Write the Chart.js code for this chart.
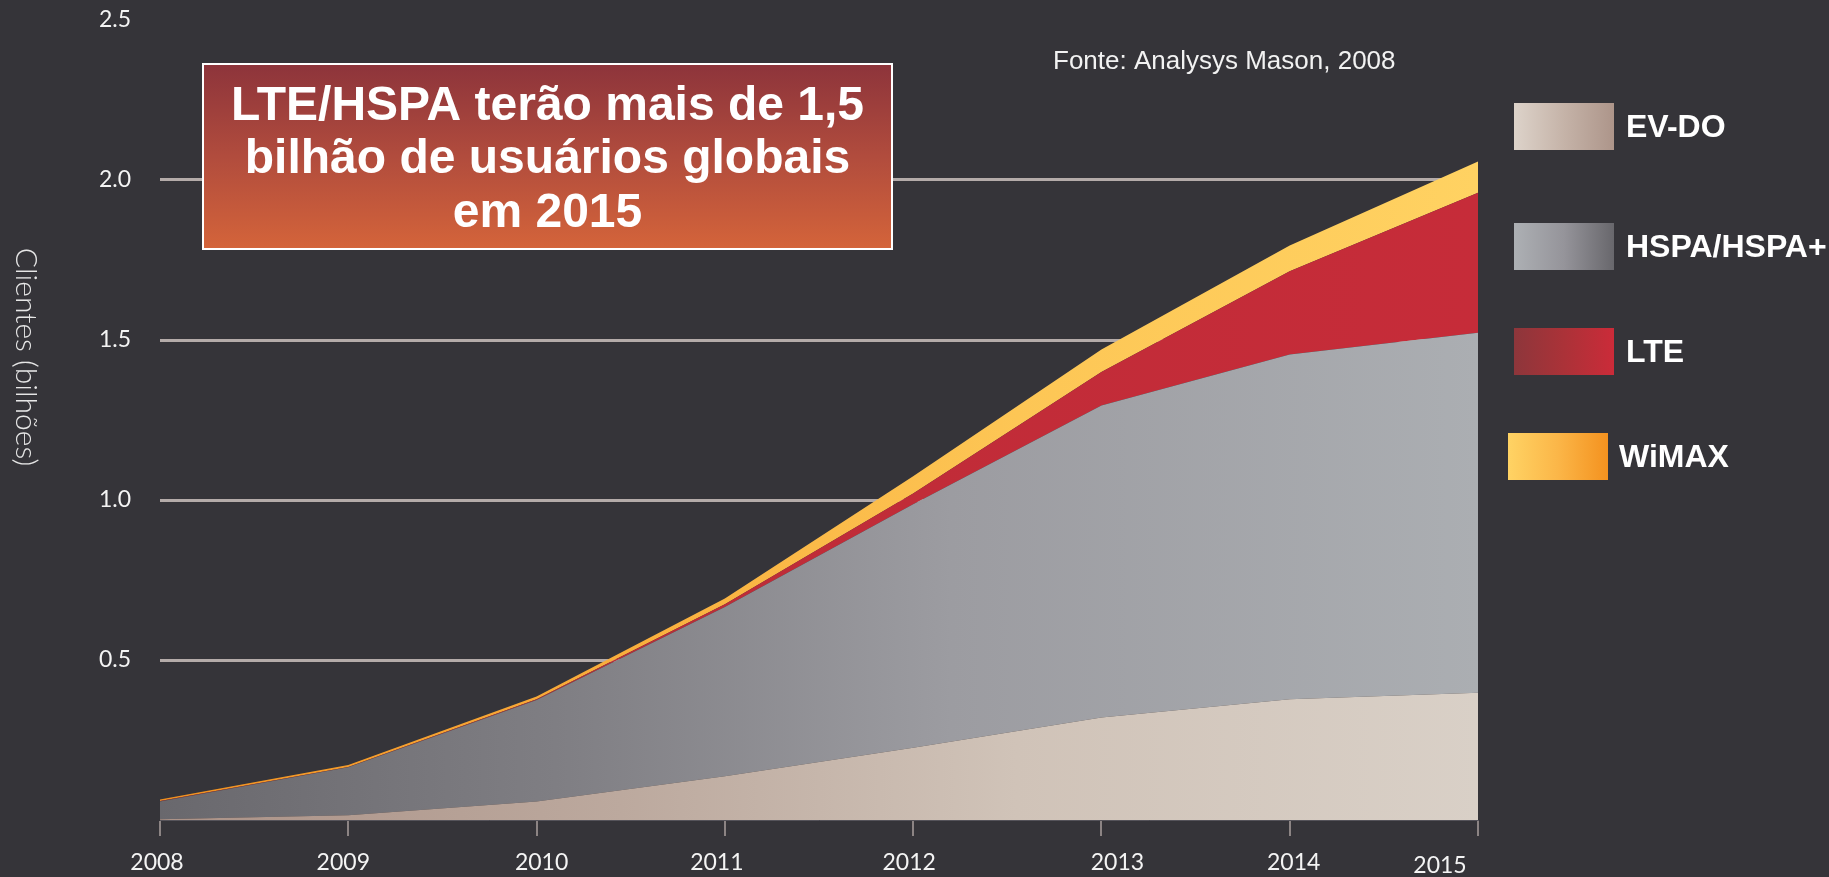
<!DOCTYPE html>
<html>
<head>
<meta charset="utf-8">
<script src="https://cdn.jsdelivr.net/npm/chart.js@4/dist/chart.umd.min.js"></script>
<style>
  html, body { margin: 0; padding: 0; background: #353439; }
  #wrap { position: relative; width: 1829px; height: 877px; }
</style>
</head>
<body>
<div id="wrap"><canvas id="c"></canvas></div>
<script>
// ---------------- data ----------------
const years = [2008, 2009, 2010, 2011, 2012, 2013, 2014, 2015];
const evdo  = [0.002, 0.015, 0.058, 0.137, 0.226, 0.320, 0.377, 0.398];
const hspa  = [0.056, 0.150, 0.317, 0.529, 0.761, 0.975, 1.078, 1.125];
const lte   = [0.001, 0.001, 0.002, 0.008, 0.033, 0.105, 0.260, 0.437];
const wimax = [0.005, 0.006, 0.009, 0.018, 0.054, 0.070, 0.080, 0.098];
const seriesNames = ['EV-DO', 'HSPA/HSPA+', 'LTE', 'WiMAX'];
const yTickValues = [0.5, 1.0, 1.5, 2.0, 2.5];
const headline = ['LTE/HSPA terão mais de 1,5', 'bilhão de usuários globais', 'em 2015'];
const sourceNote = 'Fonte: Analysys Mason, 2008';
const yTitle = 'Clientes (bilhões)';

// ---------------- styles ----------------
const areaStops = [
  [[0, '#ab9287'], [0.35, '#bca99e'], [0.65, '#d0c3b8'], [1, '#d9d0c7']],
  [[0, '#69686d'], [0.3, '#7f7e83'], [0.6, '#9c9ca1'], [1, '#abaeb2']],
  [[0, '#a3303a'], [0.5, '#c02c38'], [1, '#c62c39']],
  [[0, '#f2911f'], [0.35, '#f9ae3c'], [0.65, '#fdc655'], [1, '#ffd262']]
];
const swatchStops = [
  [[0, '#ddd3ca'], [0.5, '#c5b3a8'], [1, '#ad958a']],
  [[0, '#adb0b4'], [0.5, '#95949a'], [1, '#68676c']],
  [[0, '#8d363b'], [0.5, '#ab3238'], [1, '#cb2b39']],
  [[0, '#ffd364'], [0.5, '#fbb648'], [1, '#f4921f']]
];
const legendRows = [
  { x: 1514, y: 103, tx: 1626 },
  { x: 1514, y: 223, tx: 1626 },
  { x: 1514, y: 328, tx: 1626 },
  { x: 1508, y: 433, tx: 1619 }
];
const xLabelNudge = [[-3, 0], [-5, 0], [5, 0], [-8, 0], [-4, 0], [16, 0], [4, 0], [-38, 3]];

function hGrad(ctx, x0, x1, stops) {
  const g = ctx.createLinearGradient(x0, 0, x1, 0);
  stops.forEach(s => g.addColorStop(s[0], s[1]));
  return g;
}
function areaFill(i) {
  return (context) => {
    const chart = context.chart;
    const ca = chart.chartArea;
    if (!ca) return areaStops[i][areaStops[i].length - 1][1];
    return hGrad(chart.ctx, ca.left, ca.right, areaStops[i]);
  };
}

const seriesValues = [evdo, hspa, lte, wimax];
const datasets = seriesValues.map((vals, i) => ({
  label: seriesNames[i],
  data: years.map((y, k) => ({ x: y, y: vals[k] })),
  backgroundColor: areaFill(i),
  borderWidth: 0,
  pointRadius: 0,
  tension: 0,
  fill: i === 0 ? 'origin' : '-1'
}));

const decorations = {
  id: 'decorations',
  afterDraw(chart) {
    const ctx = chart.ctx;
    ctx.save();

    // y axis title
    ctx.save();
    ctx.translate(26, 357);
    ctx.rotate(Math.PI / 2);
    ctx.fillStyle = '#e6e6e6';
    ctx.font = '300 30px Lato';
    ctx.textAlign = 'center';
    ctx.textBaseline = 'middle';
    ctx.fillText(yTitle, 0, 0);
    ctx.restore();

    // x tick labels (through the x scale)
    const xs = chart.scales.x;
    ctx.fillStyle = '#f4f4f4';
    ctx.font = '23px Lato';
    ctx.textAlign = 'center';
    ctx.textBaseline = 'middle';
    xs.ticks.forEach((t, i) => {
      const n = xLabelNudge[i] || [0, 0];
      ctx.fillText(String(t.value), xs.getPixelForValue(t.value) + n[0], 863 + n[1]);
    });

    // headline box
    const bx = 203, by = 64, bw = 689, bh = 185;
    const g = ctx.createLinearGradient(0, by, 0, by + bh);
    g.addColorStop(0, '#8d343b');
    g.addColorStop(0.5, '#b14c3d');
    g.addColorStop(1, '#d4643a');
    ctx.fillStyle = g;
    ctx.fillRect(bx, by, bw, bh);
    ctx.strokeStyle = '#ffffff';
    ctx.lineWidth = 2;
    ctx.strokeRect(bx, by, bw, bh);
    ctx.fillStyle = '#ffffff';
    ctx.font = 'bold 48px "Liberation Sans", Arial, sans-serif';
    ctx.textAlign = 'center';
    ctx.textBaseline = 'alphabetic';
    const base = [120, 173, 227];
    headline.forEach((line, i) => ctx.fillText(line, bx + bw / 2, base[i]));

    // source note
    ctx.font = '26px "Liberation Sans", Arial, sans-serif';
    ctx.fillStyle = '#f2f2f2';
    ctx.textAlign = 'left';
    ctx.fillText(sourceNote, 1053, 69);

    // legend
    chart.data.datasets.forEach((ds, i) => {
      const r = legendRows[i];
      ctx.fillStyle = hGrad(ctx, r.x, r.x + 100, swatchStops[i]);
      ctx.fillRect(r.x, r.y, 100, 47);
      ctx.fillStyle = '#ffffff';
      ctx.font = 'bold 32px "Liberation Sans", Arial, sans-serif';
      ctx.textAlign = 'left';
      ctx.textBaseline = 'middle';
      ctx.fillText(ds.label, r.tx, r.y + 25);
    });

    ctx.restore();
  }
};

new Chart(document.getElementById('c'), {
  type: 'line',
  data: { datasets },
  plugins: [decorations],
  options: {
    responsive: true,
    maintainAspectRatio: false,
    animation: false,
    events: [],
    layout: { padding: { top: 20, right: 351, left: 0, bottom: 0 } },
    plugins: { legend: { display: false }, tooltip: { enabled: false } },
    scales: {
      x: {
        type: 'linear',
        min: years[0],
        max: years[years.length - 1],
        offset: false,
        ticks: { stepSize: 1, color: 'rgba(0,0,0,0)', font: { family: 'Lato', size: 23 } },
        grid: { drawOnChartArea: false, drawTicks: true, tickLength: 16, color: '#8c8484', lineWidth: 2 },
        border: { display: true, color: '#55535a', width: 1 },
        afterFit(scale) { scale.height = 57; }
      },
      y: {
        stacked: true,
        min: 0,
        max: 2.5,
        afterBuildTicks(scale) { scale.ticks = yTickValues.map(v => ({ value: v })); },
        ticks: {
          padding: 0,
          color: '#f4f4f4',
          font: { family: 'Lato', size: 23, lineHeight: 1 },
          callback: (v) => Number(v).toFixed(1)
        },
        grid: {
          drawTicks: true,
          tickLength: 29,
          tickColor: 'rgba(0,0,0,0)',
          lineWidth: 3,
          color: (c) => (c.tick && c.tick.value >= 2.5) ? 'rgba(0,0,0,0)' : '#b4aba9'
        },
        border: { display: false },
        afterFit(scale) { scale.width = 160; }
      }
    }
  }
});
</script>
</body>
</html>
